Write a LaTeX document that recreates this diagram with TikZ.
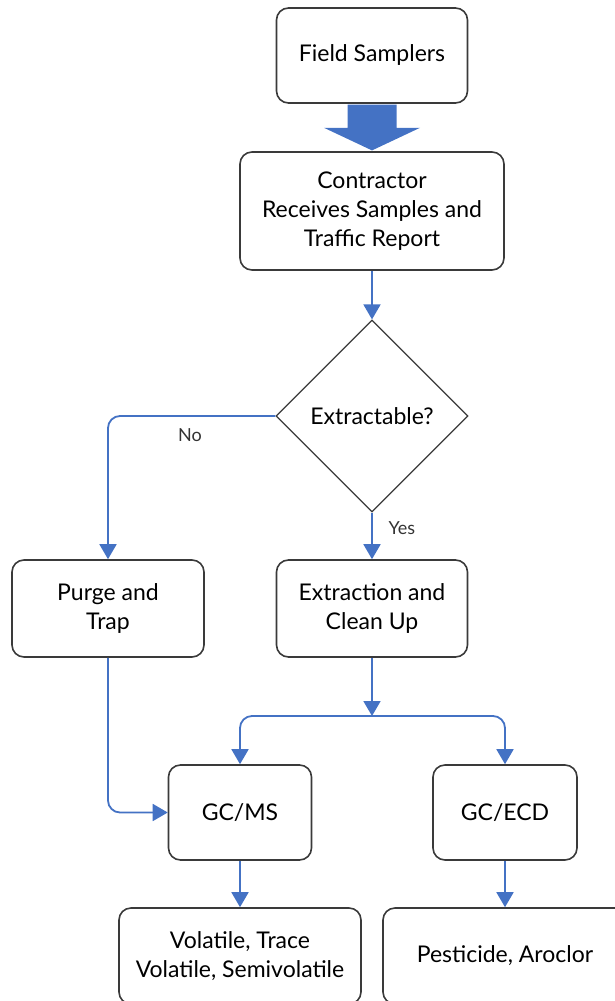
\documentclass[tikz,border=0pt]{standalone}
\usepackage{fontspec}
\setmainfont{Lato}
\usetikzlibrary{arrows.meta,shapes.geometric,calc}
\definecolor{flowblue}{HTML}{4472C4}
\definecolor{boxline}{HTML}{3A3A3A}
\begin{document}
\begin{tikzpicture}[x=1pt,y=-1pt,
  box/.style={draw=boxline, line width=1.6pt, rounded corners=12pt, align=center,
    inner sep=0pt, font=\fontsize{23}{29}\selectfont},
  arr/.style={draw=flowblue, line width=1.8pt, -{Triangle[length=15pt,width=17pt]}},
  lbl/.style={font=\fontsize{18}{20}\selectfont, text=black!80}]
\useasboundingbox (0,0) rectangle (614,1001);
\node[box, minimum width=191pt, minimum height=95pt] (fs) at (372,55.5) {Field Samplers};
\node[box, minimum width=264pt, minimum height=118pt] (cr) at (372,211) {Contractor\\Receives Samples and\\Traffic Report};
\node[draw=boxline, line width=1.2pt, shape=diamond, aspect=1, inner sep=0pt, minimum width=192pt, minimum height=192pt,
  font=\fontsize{23}{29}\selectfont] (dec) at (372,416) {Extractable?};
\node[box, minimum width=192pt, minimum height=97pt] (pt) at (108,608.5) {Purge and\\Trap};
\node[box, minimum width=191pt, minimum height=97pt] (ex) at (372,608.5) {Extraction and\\Clean Up};
\node[box, minimum width=143pt, minimum height=95pt] (gcms) at (240,812.5) {GC/MS};
\node[box, minimum width=144pt, minimum height=95pt] (gcecd) at (505,812.5) {GC/ECD};
\node[box, minimum width=242pt, minimum height=96pt] (vol) at (240,956) {Volatile, Trace\\Volatile, Semivolatile};
\node[box, minimum width=244pt, minimum height=96pt] (pest) at (505,956) {Pesticide, Aroclor};
\coordinate (split) at (372,716);
% big block arrow
\fill[flowblue] ($(fs.south)+(-24.5,0.8)$) -- ($(fs.south)+(24.5,0.8)$) -- ($(fs.south)+(24.5,24)$)
  -- ($(fs.south)+(48,24)$) -- ($(cr.north)+(0,-0.8)$) -- ($(fs.south)+(-48,24)$) -- ($(fs.south)+(-24.5,24)$) -- cycle;
\draw[arr] (cr.south) -- (dec.north);
\draw[arr, rounded corners=12pt] (dec.west) -| (pt.north);
\node[lbl] (no) at (190,435) {No};
\draw[arr] (dec.south) -- (ex.north);
\node[lbl, anchor=west] (yes) at (385,528) {Yes};
\draw[arr] (ex.south) -- (split);
\draw[arr, rounded corners=12pt] (split) -| (gcms.north);
\draw[arr, rounded corners=12pt] (split) -| (gcecd.north);
\draw[arr, rounded corners=12pt] (pt.south) |- (gcms.west);
\draw[arr] (gcms.south) -- (vol.north);
\draw[arr] (gcecd.south) -- (pest.north);
\end{tikzpicture}
\end{document}
